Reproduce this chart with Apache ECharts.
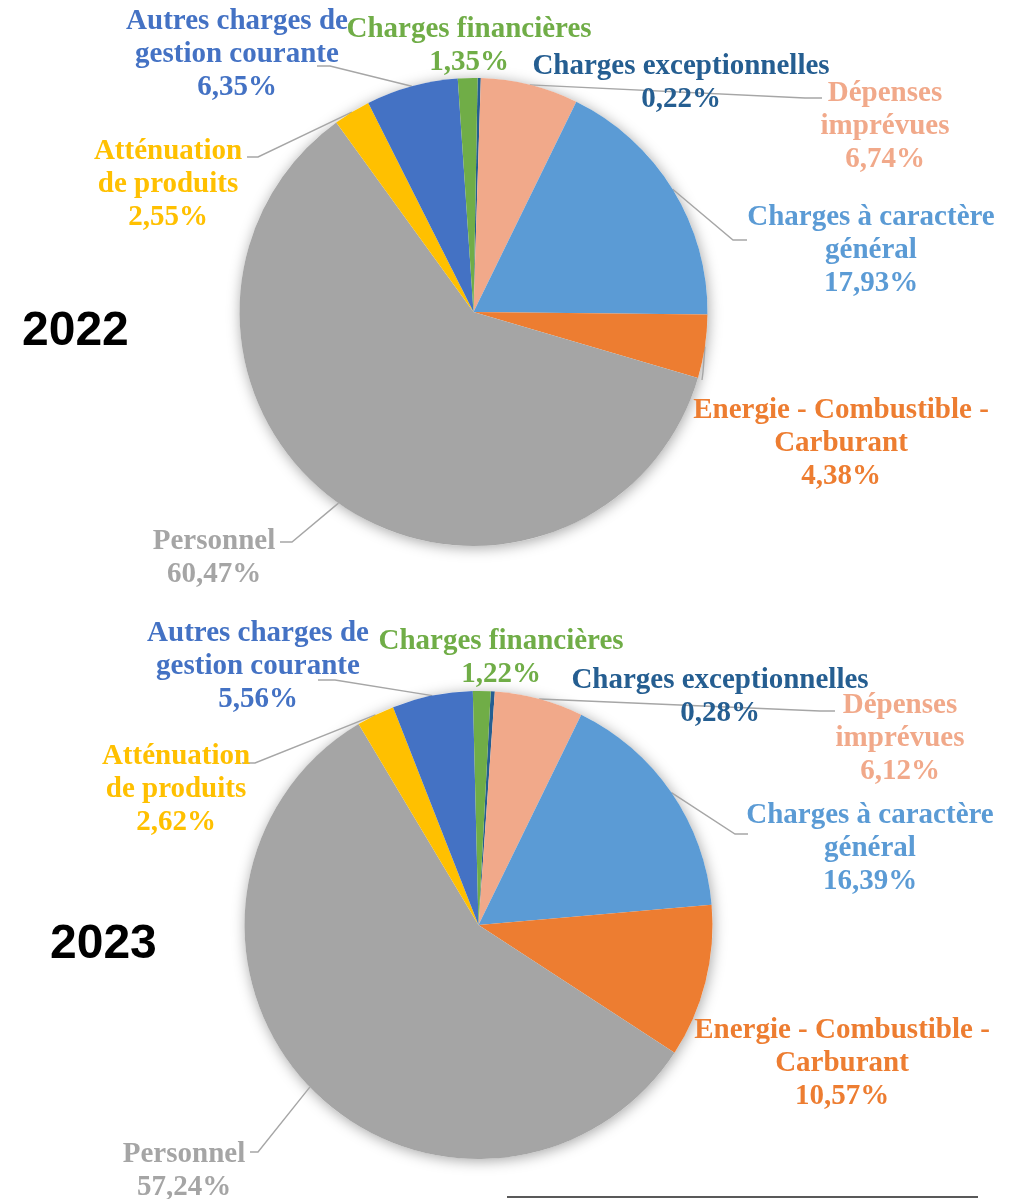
<!DOCTYPE html>
<html><head><meta charset="utf-8">
<script src="https://cdn.jsdelivr.net/npm/echarts@6/dist/echarts.min.js"></script>
<style>html,body{margin:0;padding:0;background:#fff}#c{width:1009px;height:1199px}</style>
</head><body><div id="c"></div>
<script>
// ---- data ----
const categories = ['Charges exceptionnelles','Dépenses imprévues','Charges à caractère général','Energie - Combustible - Carburant','Personnel','Atténuation de produits','Autres charges de gestion courante','Charges financières'];
const labelNames = ['Charges exceptionnelles','Dépenses\nimprévues','Charges à caractère\ngénéral','Energie - Combustible -\nCarburant','Personnel','Atténuation\nde produits','Autres charges de\ngestion courante','Charges financières'];
const years = ['2022','2023'];
const values2022 = [0.22, 6.74, 17.93, 4.38, 60.47, 2.55, 6.35, 1.35];
const values2023 = [0.28, 6.12, 16.39, 10.57, 57.24, 2.62, 5.56, 1.22];
const valuesByYear = [values2022, values2023];

// ---- styles / layout ----
const colors = ['#255E91','#F1A98A','#5B9BD5','#ED7D31','#A5A5A5','#FFC000','#4472C4','#70AD47'];
const labelFont = '"Liberation Serif", "DejaVu Serif", serif';
const labelDy = 2.5;
const layout = [
  { center:[473.5,312], radius:234, start:89, yearPos:[22,332],
    labels:[
      {x:681,y:81,line:null},
      {x:885,y:124,line:[[805,98],[822,98]]},
      {x:871,y:248.5,line:[[733,240],[747,240]]},
      {x:841,y:441,line:[[703,372],[702,380]]},
      {x:214,y:556,line:[[292,542],[280,542]]},
      {x:168,y:182.5,line:[[258,157],[247,157]]},
      {x:237,y:52.5,line:[[330,66],[317,66]]},
      {x:469,y:44,line:null}
    ]},
  { center:[478.5,925], radius:234, start:87, yearPos:[50,945],
    labels:[
      {x:720,y:694.5,line:null},
      {x:900,y:736.5,line:[[820,711],[835,711]]},
      {x:870,y:846.5,line:[[735,834],[748,834]]},
      {x:842,y:1061.5,line:null},
      {x:184,y:1168.5,line:[[258,1152],[250,1152]]},
      {x:176,y:787.5,line:[[255,763],[242,763]]},
      {x:258,y:664.5,line:[[335,680],[318,680]]},
      {x:501,y:656,line:null}
    ]}
];

const fmt = v => v.toFixed(2).replace('.', ',') + '%';

const series = [];
const graphics = [];
years.forEach((yr, s) => {
  const L = layout[s];
  // soft shadow disk behind the pie
  series.push({
    type:'pie', silent:true, z:1, center:L.center, radius:L.radius,
    label:{show:false}, labelLine:{show:false},
    itemStyle:{color:'#fff', shadowBlur:14, shadowColor:'rgba(0,0,0,0.35)', shadowOffsetX:1, shadowOffsetY:2},
    data:[{value:1, name:''}]
  });
  series.push({
    type:'pie', z:2, center:L.center, radius:L.radius, startAngle:L.start, clockwise:true,
    avoidLabelOverlap:false, silent:true,
    itemStyle:{borderWidth:0},
    label:{
      show:true, position:'outer', alignTo:'none',
      fontFamily:labelFont, fontWeight:'bold', fontSize:29, lineHeight:33,
      formatter: p => labelNames[p.dataIndex] + '\n' + fmt(p.value)
    },
    labelLine:{show:true, length:10, length2:10, lineStyle:{color:'#A6A6A6', width:1.4}},
    labelLayout: function(p){
      const c = L.labels[p.dataIndex];
      const out = {x:c.x, y:c.y + labelDy, align:'center', verticalAlign:'middle'};
      if (c.line && p.labelLinePoints) {
        out.labelLinePoints = [p.labelLinePoints[0].slice(), c.line[0], c.line[1]];
      }
      return out;
    },
    data: valuesByYear[s].map((v, i) => ({
      name: categories[i], value: v,
      itemStyle:{color:colors[i]},
      label:{color:colors[i]},
      labelLine:{show: !!L.labels[i].line}
    }))
  });
  graphics.push({
    type:'text', x:L.yearPos[0], y:L.yearPos[1],
    style:{text:yr, font:'bold 48px "Liberation Sans", Arial, sans-serif', fill:'#000', textVerticalAlign:'middle'}
  });
});
graphics.push({type:'line', shape:{x1:507,y1:1197,x2:978,y2:1197}, style:{stroke:'#222', lineWidth:1.5}});

const chart = echarts.init(document.getElementById('c'), null, {renderer:'canvas'});
chart.setOption({animation:false, backgroundColor:'#fff', series, graphic:graphics});
</script>
</body></html>
